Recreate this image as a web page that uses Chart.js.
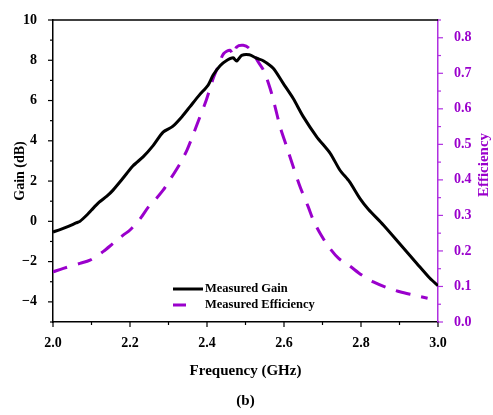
<!DOCTYPE html>
<html>
<head>
<meta charset="utf-8">
<script src="https://cdn.jsdelivr.net/npm/chart.js@4/dist/chart.umd.min.js"></script>
<style>
  html, body { margin: 0; padding: 0; background: #fff; }
  #wrap { width: 493px; height: 415px; position: relative; }
</style>
</head>
<body>
<div id="wrap"><canvas id="c"></canvas></div>
<script>
// Measured gain / efficiency vs frequency.
const gainFreq = [2.00, 2.02, 2.04, 2.06, 2.07, 2.09, 2.10, 2.12, 2.14, 2.156, 2.18, 2.208, 2.234, 2.26,
  2.286, 2.31, 2.335, 2.356, 2.38, 2.403, 2.416, 2.434, 2.45, 2.468, 2.477, 2.49, 2.51, 2.529, 2.546,
  2.572, 2.598, 2.624, 2.65, 2.685, 2.72, 2.745, 2.77, 2.797, 2.819, 2.858, 2.90, 2.945, 2.979, 3.00];
const gainDb = [-0.53, -0.40, -0.25, -0.08, 0.0, 0.35, 0.56, 0.95, 1.25, 1.55, 2.1, 2.76, 3.2, 3.76,
  4.43, 4.7, 5.2, 5.7, 6.27, 6.77, 7.27, 7.73, 7.98, 8.12, 7.96, 8.24, 8.27, 8.1, 7.98,
  7.6, 6.85, 6.1, 5.2, 4.2, 3.38, 2.55, 1.97, 1.14, 0.6, -0.18, -1.1, -2.09, -2.83, -3.2];

const effFreq = [2.00, 2.027, 2.07, 2.096, 2.13, 2.156, 2.183, 2.20, 2.226, 2.248, 2.27, 2.286, 2.30,
  2.33, 2.348, 2.365, 2.38, 2.398, 2.416, 2.43, 2.443, 2.46, 2.468, 2.477, 2.494, 2.51, 2.533, 2.547,
  2.564, 2.577, 2.59, 2.607, 2.624, 2.642, 2.663, 2.676, 2.694, 2.716, 2.742, 2.768, 2.802, 2.832,
  2.867, 2.901, 2.936, 2.973];
const efficiency = [0.141, 0.151, 0.165, 0.174, 0.198, 0.221, 0.245, 0.259, 0.29, 0.324, 0.35, 0.371, 0.394,
  0.446, 0.484, 0.53, 0.573, 0.624, 0.685, 0.722, 0.755, 0.765, 0.75, 0.774, 0.779, 0.77, 0.732, 0.708,
  0.657, 0.605, 0.549, 0.493, 0.437, 0.38, 0.324, 0.287, 0.249, 0.212, 0.179, 0.160, 0.132, 0.113,
  0.097, 0.085, 0.076, 0.067];

const seriesNames = ["Measured Gain", "Measured Efficiency"];
const xTitle = "Frequency (GHz)", yTitle = "Gain (dB)", y2Title = "Efficiency", caption = "(b)";

const PURPLE = "#9a00cc", AXIS_PURPLE = "#b030e0";
const SERIF = "'Liberation Serif', 'DejaVu Serif', serif";
const F = (px) => `bold ${px}px ${SERIF}`;

const majorOf = {
  x: (v) => Math.round(v * 10) % 2 === 0,
  y: (v) => Math.round(v) % 2 === 0,
  y2: (v) => Math.round(v * 100) % 10 === 0,
};

// ticks (major/minor), top frame, titles and legend
const decor = {
  id: "decor",
  afterDraw(chart) {
    const g = chart.ctx, a = chart.chartArea, s = chart.scales;
    g.save();
    g.lineCap = "butt";
    // top frame
    g.strokeStyle = "#000"; g.lineWidth = 1.5;
    g.beginPath(); g.moveTo(a.left, a.top); g.lineTo(a.right, a.top); g.stroke();

    const tickMarks = (sc, id, color, dir) => {
      g.strokeStyle = color; g.lineWidth = 1.2;
      sc.ticks.forEach((t) => {
        const len = majorOf[id](t.value) ? 5 : 3;
        const p = sc.getPixelForValue(t.value);
        g.beginPath();
        if (dir === "down") { g.moveTo(p, a.bottom); g.lineTo(p, a.bottom + len); }
        if (dir === "left") { g.moveTo(a.left, p); g.lineTo(a.left - len, p); }
        if (dir === "right") { g.moveTo(a.right, p); g.lineTo(a.right + len, p); }
        g.stroke();
      });
    };
    tickMarks(s.x, "x", "#000", "down");
    tickMarks(s.y, "y", "#000", "left");
    tickMarks(s.y2, "y2", AXIS_PURPLE, "right");

    // titles
    g.textAlign = "center"; g.textBaseline = "middle";
    g.fillStyle = "#000"; g.font = F(15);
    g.fillText(xTitle, (a.left + a.right) / 2, 371);
    g.fillText(caption, (a.left + a.right) / 2, 401);
    g.font = F(14);
    g.save(); g.translate(20, 171); g.rotate(-Math.PI / 2);
    g.fillText(yTitle, 0, 0); g.restore();
    g.fillStyle = PURPLE; g.font = F(15);
    g.save(); g.translate(484, 165); g.rotate(-Math.PI / 2);
    g.fillText(y2Title, 0, 0); g.restore();

    // legend
    const lx = 173, ly = [289, 305];
    g.textAlign = "left"; g.font = F(12.5); g.fillStyle = "#000";
    chart.data.datasets.forEach((d, i) => {
      g.strokeStyle = d.borderColor; g.lineWidth = 3;
      g.beginPath(); g.moveTo(lx, ly[i]); g.lineTo(i === 0 ? lx + 30 : lx + 13, ly[i]); g.stroke();
      g.fillStyle = "#000";
      g.fillText(d.label, lx + 32, ly[i]);
    });
    g.restore();
  },
};

new Chart(document.getElementById("c"), {
  type: "line",
  data: {
    datasets: [
      { label: seriesNames[0], yAxisID: "y", borderColor: "#000", borderWidth: 3,
        pointRadius: 0, tension: 0.25,
        data: gainFreq.map((f, i) => ({ x: f, y: gainDb[i] })) },
      { label: seriesNames[1], yAxisID: "y2", borderColor: PURPLE, borderWidth: 3,
        borderDash: [15, 11], pointRadius: 0, tension: 0.3,
        data: effFreq.map((f, i) => ({ x: f, y: efficiency[i] })) },
    ],
  },
  options: {
    responsive: true, maintainAspectRatio: false, animation: false,
    layout: { padding: { top: 20, left: 0, right: 0, bottom: 0 } },
    plugins: { legend: { display: false }, tooltip: { enabled: false } },
    scales: {
      x: {
        type: "linear", min: 2, max: 3,
        grid: { display: false },
        border: { display: true, color: "#000", width: 1.5 },
        ticks: { stepSize: 0.1, autoSkip: false, maxRotation: 0, padding: 5, color: "#000",
          font: { family: SERIF, weight: "bold", size: 14 },
          callback: (v) => (majorOf.x(v) ? v.toFixed(1) : "") },
        afterFit: (sc) => { sc.height = 93; },
      },
      y: {
        position: "left", min: -5, max: 10,
        grid: { display: false },
        border: { display: true, color: "#000", width: 1.5 },
        ticks: { stepSize: 1, autoSkip: false, padding: 8, color: "#000",
          font: { family: SERIF, weight: "bold", size: 14 },
          callback: (v) => (majorOf.y(v) ? (v < 0 ? "\u2212" + Math.abs(v) : String(v)) : "") },
        afterFit: (sc) => { sc.width = 53; },
      },
      y2: {
        position: "right", min: 0, max: 0.85,
        grid: { display: false },
        border: { display: true, color: AXIS_PURPLE, width: 1.5 },
        ticks: { stepSize: 0.05, autoSkip: false, padding: 8, color: PURPLE,
          font: { family: SERIF, weight: "bold", size: 14 },
          callback: (v) => (majorOf.y2(v) && v < 0.84 ? v.toFixed(1) : "") },
        afterFit: (sc) => { sc.width = 55; },
      },
    },
  },
  plugins: [decor],
});
</script>
</body>
</html>
